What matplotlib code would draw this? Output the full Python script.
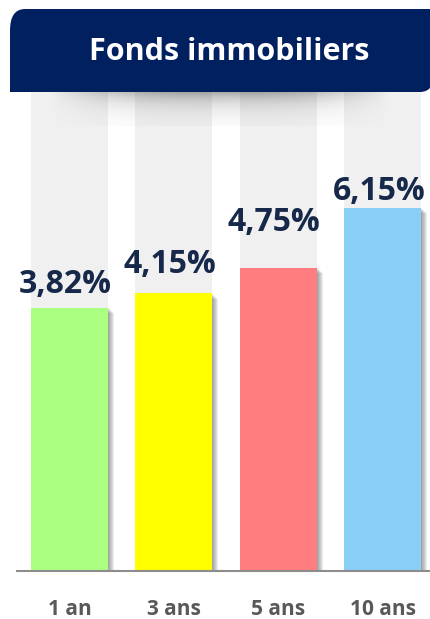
import numpy as np
import matplotlib.pyplot as plt
from matplotlib.patches import FancyBboxPatch, Rectangle

plt.rcParams['font.family'] = ['Open Sans', 'DejaVu Sans']

# data
periods = ['1 an', '3 ans', '5 ans', '10 ans']
rates = [3.82, 4.15, 4.75, 6.15]
labels = ['3,82%', '4,15%', '4,75%', '6,15%']
colors = ['#aaff80', '#ffff00', '#ff7c80', '#87cff5']
title = 'Fonds immobiliers'

# gap (pixels) between bar top and label baseline, as in the original layout
label_gap = [15, 20, 37, 8]

ymin = -2.33
ymax = 8.85

fig = plt.figure(figsize=(4.3, 6.19), dpi=100)
W, H = 430, 619

# axes: left=17px, right=430px, bottom=571px, top=92px
ax = fig.add_axes([17 / W, 1 - 571 / H, (430 - 17) / W, (571 - 92) / H])
x = list(range(len(rates)))
bw = 0.737
px = 1 / 104.5  # one pixel in data units along x

# grey background columns
ax.bar(x, [ymax - ymin] * len(x), bottom=ymin, width=bw, color='#f0f0f0', zorder=1)
# soft shadow on the right side of each bar
for xi, v in zip(x, rates):
    for k in range(1, 7):
        ax.add_patch(Rectangle((xi + bw / 2 - 2 * px, ymin), (k + 2) * px, v - ymin - 0.02 * k,
                               color='#333333', alpha=0.09, lw=0, zorder=2))
ax.bar(x, [v - ymin for v in rates], bottom=ymin, width=bw, color=colors, zorder=3)

for xi, v, lab, g in zip(x, rates, labels, label_gap):
    ax.annotate(lab, (xi, v), xytext=(-3, g * 0.72), textcoords='offset points', ha='center',
                va='baseline', fontsize=23, fontweight='bold', color='#17294a', zorder=5)

ax.set_xlim(-0.502, 3.45)
ax.set_ylim(ymin, ymax)
ax.set_xticks(x)
ax.set_xticklabels(periods, fontsize=15, fontweight='bold', color='#595959')
ax.tick_params(axis='x', length=0, pad=20)
ax.set_yticks([])
for s in ['top', 'right', 'left']:
    ax.spines[s].set_visible(False)
ax.spines['bottom'].set_color('#8c8c8c')
ax.spines['bottom'].set_linewidth(1.5)
ax.spines['bottom'].set_zorder(6)

# banner shadow (soft gradient under the banner)
sh_ax = fig.add_axes([50 / W, 1 - 126 / H, 340 / W, 36 / H], zorder=4)
gx = np.linspace(-1, 1, 200)
gy = np.linspace(0, 1, 60)
hx = np.clip(1 - np.abs(gx) ** 2.5, 0, 1)
hy = np.exp(-gy * 3.0)
alpha = np.outer(hy, hx) * 0.6
rgba = np.zeros((60, 200, 4))
rgba[..., :3] = 0.3
rgba[..., 3] = alpha
sh_ax.imshow(rgba, aspect='auto', extent=(0, 1, 0, 1), origin='upper')
sh_ax.axis('off')

# banner
ban_ax = fig.add_axes([0, 0, 1, 1], zorder=5)
ban_ax.axis('off')
ban_ax.set_xlim(0, 1)
ban_ax.set_ylim(0, 1)
ban_ax.add_patch(FancyBboxPatch((10 / W, 1 - 92 / H), 425 / W, 83 / H,
                                boxstyle='round,pad=0,rounding_size=0.035',
                                color='#002060', lw=0))
ban_ax.add_patch(Rectangle((10 / W, 1 - 92 / H), 30 / W, 30 / H, color='#002060', lw=0))
ban_ax.add_patch(Rectangle((400 / W, 1 - 40 / H), 30 / W, 31 / H, color='#002060', lw=0))
ban_ax.text(229 / W, 1 - 52 / H, title, ha='center', va='center', fontsize=22, fontweight='bold',
            color='white')

fig.savefig('out.png', dpi=100)
